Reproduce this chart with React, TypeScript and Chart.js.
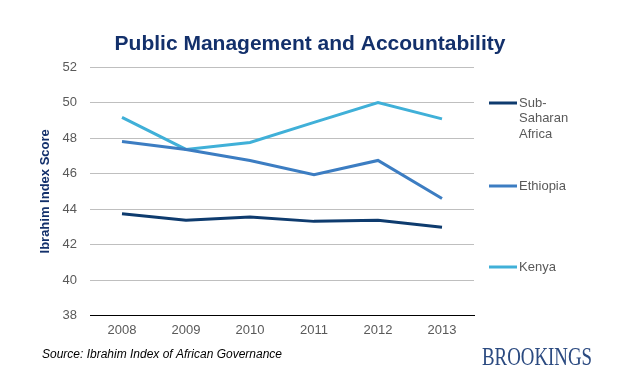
import React, { useEffect, useRef } from "react";
import { Chart, registerables } from "chart.js";

Chart.register(...registerables);

const years = ["2008", "2009", "2010", "2011", "2012", "2013"];
const subSaharanAfrica = [43.74, 43.37, 43.56, 43.31, 43.37, 42.98];
const ethiopia = [47.81, 47.36, 46.74, 45.93, 46.74, 44.6];
const kenya = [49.16, 47.36, 47.75, 48.88, 50.0, 49.08];
const seriesNames = ["Sub-Saharan Africa", "Ethiopia", "Kenya"];
const legendLines = [["Sub-", "Saharan", "Africa"], ["Ethiopia"], ["Kenya"]];
const yTicks = { min: 38, max: 52, step: 2 };
const titleText = "Public Management and Accountability";
const yTitleText = "Ibrahim Index Score";
const sourceText = "Source: Ibrahim Index of African Governance";
const brandText = "BROOKINGS";

const colors = ["#0E3B6E", "#3C7DC2", "#40B0D8"];
const SANS = "'Liberation Sans', Arial, sans-serif";
const SERIF = "'Liberation Serif', 'Times New Roman', serif";

const decorPlugin = {
  id: "decor",
  afterDraw(chart: any) {
    const ctx = chart.ctx as CanvasRenderingContext2D;
    ctx.save();
    // Title
    ctx.fillStyle = "#13306B";
    ctx.font = `bold 21px ${SANS}`;
    ctx.textAlign = "center";
    ctx.textBaseline = "middle";
    ctx.fillText(titleText, 310, 44);

    // Legend
    const legendY = [103, 186, 267];
    chart.data.datasets.forEach((ds: any, i: number) => {
      const y = legendY[i];
      ctx.strokeStyle = ds.borderColor;
      ctx.lineWidth = 3;
      ctx.beginPath();
      ctx.moveTo(489, y);
      ctx.lineTo(517, y);
      ctx.stroke();
      ctx.fillStyle = "#595959";
      ctx.font = `13px ${SANS}`;
      ctx.textAlign = "left";
      ctx.textBaseline = "middle";
      legendLines[i].forEach((line, j) => {
        ctx.fillText(line, 519, y + j * 15.5);
      });
    });

    // Source
    ctx.fillStyle = "#000000";
    ctx.font = `italic 12px ${SANS}`;
    ctx.textAlign = "left";
    ctx.textBaseline = "middle";
    ctx.fillText(sourceText, 42, 355, 240);

    // Brand
    ctx.fillStyle = "#2B4A80";
    ctx.font = `25px ${SERIF}`;
    ctx.textAlign = "left";
    ctx.textBaseline = "alphabetic";
    ctx.fillText(brandText, 482, 365, 110);
    ctx.restore();
  },
};

export default function App() {
  const ref = useRef<HTMLCanvasElement | null>(null);

  useEffect(() => {
    if (!ref.current) return;
    const data = [subSaharanAfrica, ethiopia, kenya];
    const chart = new Chart(ref.current, {
      type: "line",
      data: {
        labels: years,
        datasets: seriesNames.map((name, i) => ({
          label: name,
          data: data[i],
          borderColor: colors[i],
          backgroundColor: colors[i],
          borderWidth: 3,
          pointRadius: 0,
          tension: 0,
          fill: false,
        })),
      },
      options: {
        responsive: false,
        animation: false,
        layout: { padding: { top: 67, bottom: 50, left: 0, right: 157 } },
        plugins: {
          legend: { display: false },
          title: { display: false },
          tooltip: { enabled: false },
        },
        scales: {
          x: {
            type: "category",
            offset: true,
            grid: { display: false, drawTicks: false },
            border: { display: true, color: "#000000", width: 1 },
            ticks: {
              color: "#595959",
              font: { size: 13, family: SANS },
              padding: 7,
            },
            afterFit(scale: any) {
              scale.height = 24.3;
            },
          },
          y: {
            min: yTicks.min,
            max: yTicks.max,
            ticks: {
              stepSize: yTicks.step,
              color: "#595959",
              font: { size: 13, family: SANS },
              padding: 13,
            },
            grid: { color: "#BFBFBF", drawTicks: false, lineWidth: 1 },
            border: { display: false },
            title: {
              display: true,
              text: yTitleText,
              color: "#13306B",
              font: { size: 13, weight: "bold", family: SANS },
              padding: { top: 38, bottom: 0 },
            },
            afterFit(scale: any) {
              scale.width = 90;
            },
          },
        },
      },
      plugins: [decorPlugin],
    });
    return () => chart.destroy();
  }, []);

  return (
    <div style={{ position: "fixed", left: 0, top: 0, width: 631, height: 390, background: "#fff" }}>
      <canvas ref={ref} width={631} height={390} />
    </div>
  );
}
